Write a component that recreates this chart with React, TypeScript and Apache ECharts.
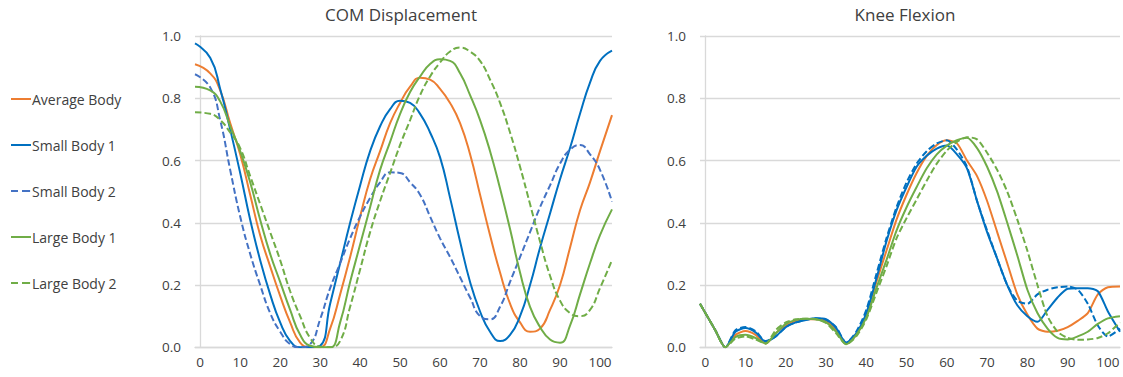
import React, { useEffect, useRef } from "react";
import * as echarts from "echarts";

// shared x positions (% of cycle); first point sits on the axis line
const XS = [-1.3, 2.5, 5, 7.5, 10, 12.5, 15, 17.5, 20, 22.5, 25, 27.5, 30, 32.5, 35, 37.5, 40, 42.5, 45, 47.5, 50, 52.5, 55, 57.5, 60, 62.5, 65, 67.5, 70, 72.5, 75, 77.5, 80, 82.5, 85, 87.5, 90, 92.5, 95, 97.5, 100, 103];

const X_TICKS = [0, 10, 20, 30, 40, 50, 60, 70, 80, 90, 100];

const SERIES_NAMES = ["Average Body", "Small Body 1", "Small Body 2", "Large Body 1", "Large Body 2"];

// COM Displacement
const comAverage = [0.909, 0.88, 0.825, 0.72, 0.62, 0.49, 0.36, 0.26, 0.165, 0.08, 0.015, 0, 0, 0.06, 0.17, 0.29, 0.42, 0.54, 0.63, 0.72, 0.785, 0.837, 0.866, 0.86, 0.83, 0.785, 0.72, 0.62, 0.49, 0.36, 0.24, 0.14, 0.08, 0.05, 0.06, 0.12, 0.2, 0.32, 0.44, 0.53, 0.63, 0.746];
const comSmall1 = [0.976, 0.93, 0.83, 0.7, 0.56, 0.41, 0.28, 0.17, 0.08, 0.02, 0, 0, 0.005, 0.14, 0.27, 0.4, 0.52, 0.63, 0.71, 0.765, 0.792, 0.785, 0.75, 0.69, 0.61, 0.48, 0.34, 0.21, 0.115, 0.05, 0.02, 0.04, 0.1, 0.2, 0.32, 0.43, 0.54, 0.64, 0.75, 0.85, 0.92, 0.953];
const comSmall2 = [0.877, 0.835, 0.73, 0.57, 0.42, 0.3, 0.2, 0.11, 0.05, 0.01, 0, 0.01, 0.09, 0.19, 0.27, 0.35, 0.42, 0.48, 0.53, 0.562, 0.56, 0.53, 0.49, 0.42, 0.35, 0.29, 0.225, 0.16, 0.1, 0.09, 0.13, 0.21, 0.29, 0.37, 0.45, 0.52, 0.59, 0.635, 0.65, 0.62, 0.57, 0.468];
const comLarge1 = [0.837, 0.825, 0.79, 0.71, 0.63, 0.53, 0.41, 0.3, 0.21, 0.12, 0.04, 0.005, 0, 0, 0.08, 0.21, 0.33, 0.45, 0.57, 0.66, 0.75, 0.82, 0.87, 0.91, 0.925, 0.92, 0.88, 0.81, 0.73, 0.63, 0.51, 0.38, 0.24, 0.13, 0.065, 0.025, 0.015, 0.07, 0.17, 0.27, 0.36, 0.443];
const comLarge2 = [0.755, 0.75, 0.73, 0.69, 0.64, 0.55, 0.46, 0.37, 0.28, 0.18, 0.1, 0.03, 0.002, 0, 0.02, 0.13, 0.25, 0.37, 0.47, 0.56, 0.65, 0.73, 0.81, 0.87, 0.915, 0.95, 0.963, 0.95, 0.92, 0.86, 0.785, 0.69, 0.58, 0.46, 0.34, 0.23, 0.15, 0.11, 0.1, 0.12, 0.19, 0.28];

// Knee Flexion
const kneeAverage = [0.14, 0.055, 0, 0.04, 0.052, 0.04, 0.012, 0.045, 0.07, 0.085, 0.09, 0.09, 0.085, 0.055, 0.012, 0.04, 0.105, 0.21, 0.31, 0.41, 0.49, 0.56, 0.615, 0.65, 0.665, 0.655, 0.6, 0.55, 0.47, 0.37, 0.27, 0.17, 0.105, 0.06, 0.05, 0.053, 0.065, 0.085, 0.11, 0.17, 0.193, 0.195];
const kneeSmall1 = [0.14, 0.055, 0, 0.05, 0.062, 0.048, 0.018, 0.035, 0.065, 0.08, 0.088, 0.093, 0.09, 0.062, 0.015, 0.045, 0.11, 0.22, 0.34, 0.44, 0.515, 0.58, 0.615, 0.638, 0.648, 0.62, 0.575, 0.47, 0.37, 0.285, 0.2, 0.135, 0.1, 0.082, 0.12, 0.16, 0.188, 0.19, 0.19, 0.18, 0.115, 0.05];
const kneeSmall2 = [0.14, 0.055, 0, 0.055, 0.065, 0.052, 0.02, 0.035, 0.065, 0.08, 0.088, 0.093, 0.088, 0.065, 0.015, 0.05, 0.12, 0.235, 0.35, 0.45, 0.53, 0.59, 0.63, 0.655, 0.665, 0.635, 0.58, 0.47, 0.375, 0.285, 0.2, 0.15, 0.14, 0.17, 0.185, 0.193, 0.195, 0.185, 0.14, 0.07, 0.035, 0.06];
const kneeLarge1 = [0.14, 0.055, 0, 0.033, 0.04, 0.03, 0.012, 0.045, 0.075, 0.088, 0.092, 0.09, 0.08, 0.05, 0.01, 0.04, 0.095, 0.19, 0.28, 0.375, 0.45, 0.515, 0.575, 0.62, 0.648, 0.665, 0.673, 0.64, 0.58, 0.5, 0.4, 0.295, 0.185, 0.11, 0.06, 0.03, 0.025, 0.035, 0.05, 0.075, 0.093, 0.1];
const kneeLarge2 = [0.14, 0.055, 0, 0.028, 0.035, 0.025, 0.012, 0.055, 0.08, 0.09, 0.092, 0.09, 0.078, 0.045, 0.01, 0.035, 0.09, 0.175, 0.26, 0.35, 0.415, 0.475, 0.535, 0.59, 0.632, 0.66, 0.675, 0.668, 0.625, 0.57, 0.5, 0.41, 0.31, 0.2, 0.1, 0.05, 0.03, 0.024, 0.025, 0.03, 0.045, 0.08];

const FONT = "'Open Sans', 'Noto Sans', sans-serif";
const TEXT = "#404040";
const GRID_LINE = "#d9d9d9";

const ORANGE = "#ED7D31";
const BLUE = "#0070C0";
const BLUE_DASH = "#4472C4";
const GREEN = "#70AD47";
const DASH = [6.5, 3];

const ICON_SOLID = "path://M0,0h20v2h-20z";
const ICON_DASHED = "path://M0,0h7v2h-7z M11,0h8v2h-8z M19.9,0h0.1v2h-0.1z";

export default function App() {
  const ref = useRef<HTMLDivElement>(null);

  useEffect(() => {
    if (!ref.current) return;
    const chart = echarts.init(ref.current, null, { renderer: "svg" });

    const pairs = (vals: number[]) => XS.map((x, i) => [x, vals[i]]);

    const comStyles = [
      { color: ORANGE, dashed: false },
      { color: BLUE, dashed: false },
      { color: BLUE_DASH, dashed: true },
      { color: GREEN, dashed: false },
      { color: GREEN, dashed: true },
    ];
    const kneeStyles = [
      { color: ORANGE, dashed: false },
      { color: BLUE, dashed: false },
      { color: BLUE, dashed: true },
      { color: GREEN, dashed: false },
      { color: GREEN, dashed: true },
    ];

    const comData = [comAverage, comSmall1, comSmall2, comLarge1, comLarge2];
    const kneeData = [kneeAverage, kneeSmall1, kneeSmall2, kneeLarge1, kneeLarge2];

    const series: any[] = [];
    comData.forEach((vals, i) => {
      const s = comStyles[i];
      series.push({
        name: SERIES_NAMES[i],
        type: "line",
        xAxisIndex: 0,
        yAxisIndex: 0,
        data: pairs(vals),
        smooth: 0.5,
        symbol: "none",
        color: s.color,
        lineStyle: { width: 2, color: s.color, type: s.dashed ? DASH : "solid" },
      });
    });
    kneeData.forEach((vals, i) => {
      const s = kneeStyles[i];
      series.push({
        name: SERIES_NAMES[i],
        type: "line",
        xAxisIndex: 1,
        yAxisIndex: 1,
        data: pairs(vals),
        smooth: 0.25,
        symbol: "none",
        color: s.color,
        lineStyle: { width: 2, color: s.color, type: s.dashed ? DASH : "solid" },
      });
    });

    const xAxisBase = {
      type: "value",
      min: -1.3,
      max: 103,
      axisLine: { show: true, lineStyle: { color: GRID_LINE, width: 1.3 } },
      axisTick: { show: false },
      splitLine: { show: false },
      axisLabel: {
        customValues: X_TICKS,
        margin: 8,
        fontSize: 13.5,
        fontFamily: FONT,
        color: TEXT,
      },
    };
    const yAxisBase = {
      type: "value",
      min: 0,
      max: 1,
      interval: 0.2,
      axisLine: { show: true, lineStyle: { color: GRID_LINE, width: 1.3 } },
      axisTick: { show: false },
      splitLine: { show: true, lineStyle: { color: GRID_LINE, width: 1.3 } },
      axisLabel: {
        margin: 14,
        fontSize: 13.5,
        fontFamily: FONT,
        color: TEXT,
        formatter: (v: number) => v.toFixed(1),
      },
    };

    chart.setOption({
      animation: false,
      backgroundColor: "#ffffff",
      grid: [
        { left: 195, top: 36, width: 417, height: 311.3 },
        { left: 700, top: 36, width: 420, height: 311.3 },
      ],
      xAxis: [
        { ...xAxisBase, gridIndex: 0 },
        { ...xAxisBase, gridIndex: 1 },
      ],
      yAxis: [
        { ...yAxisBase, gridIndex: 0 },
        { ...yAxisBase, gridIndex: 1 },
      ],
      legend: {
        data: SERIES_NAMES.map((name, i) => ({
          name,
          icon: comStyles[i].dashed ? ICON_DASHED : ICON_SOLID,
          itemStyle: { color: comStyles[i].color },
        })),
        orient: "vertical",
        left: 6,
        top: 87,
        itemWidth: 20,
        itemHeight: 2.2,
        itemGap: 32,
        selectedMode: false,
        textStyle: {
          fontSize: 14,
          fontFamily: FONT,
          color: TEXT,
          lineHeight: 14,
          padding: [0, 0, 0, -4],
        },
      },
      graphic: [
        {
          type: "text",
          x: 401,
          y: 14,
          style: {
            text: "COM Displacement",
            fontSize: 17,
            fontFamily: FONT,
            fill: TEXT,
            align: "center",
            verticalAlign: "middle",
            textAlign: "center",
            textVerticalAlign: "middle",
          },
        },
        {
          type: "text",
          x: 905,
          y: 14,
          style: {
            text: "Knee Flexion",
            fontSize: 17,
            fontFamily: FONT,
            fill: TEXT,
            align: "center",
            verticalAlign: "middle",
            textAlign: "center",
            textVerticalAlign: "middle",
          },
        },
      ],
      series,
    });

    return () => chart.dispose();
  }, []);

  return (
    <div
      ref={ref}
      style={{ position: "fixed", left: 0, top: 0, width: 1123, height: 377, background: "#fff" }}
    />
  );
}
